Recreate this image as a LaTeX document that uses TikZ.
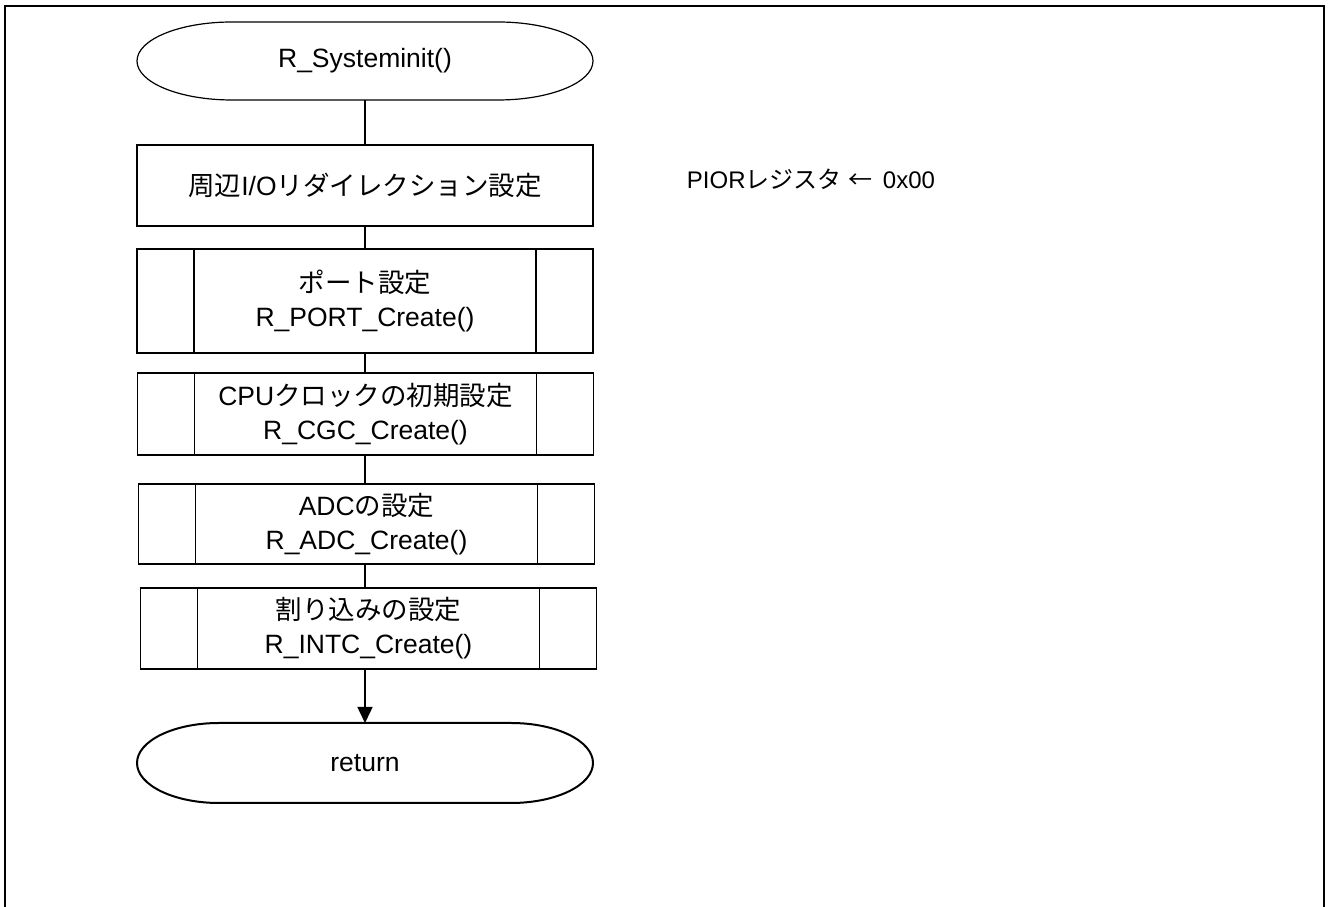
\documentclass[tikz,border=0pt]{standalone}
\usepackage{fontspec}
\setmainfont{Liberation Sans}
\newfontfamily\jp{Noto Sans CJK JP}
\usetikzlibrary{arrows.meta,calc}
\newcommand\termoutline[4]{% node, half height, line width, end radius
  \draw[line width=#3] ([xshift=#4]#1.north west) -- ([xshift=-#4]#1.north east)
    arc[start angle=90,end angle=-90,x radius=#4,y radius=#2]
    -- ([xshift=#4]#1.south west)
    arc[start angle=270,end angle=90,x radius=#4,y radius=#2] -- cycle;}
\begin{document}
\begin{tikzpicture}[x=1pt,y=1pt,
  every node/.style={font=\fontsize{26.5}{34}\selectfont, align=center, inner sep=0pt, outer sep=0pt},
  term/.style={minimum width=456pt, minimum height=#1},
  proc/.style={draw, line width=1.5pt, minimum width=456pt, minimum height=#1},
  subproc/.style={proc=#1, path picture={
    \draw[line width=1.5pt]
      ([xshift=57pt]path picture bounding box.north west) -- ([xshift=57pt]path picture bounding box.south west)
      ([xshift=-57pt]path picture bounding box.north east) -- ([xshift=-57pt]path picture bounding box.south east);}},
  conn/.style={line width=1.5pt},
  note/.style={font=\fontsize{24}{30}\selectfont}]
\useasboundingbox (0,0) rectangle (1328,907);
\draw[line width=2.5pt] (5,-2) -- (5,901) -- (1324,901) -- (1324,-2);

\node[term=78pt] (t0) at (365,846) {R\_Systeminit()};
\termoutline{t0}{39pt}{1.2pt}{95pt}

\node[proc=81pt] (b1) at (365,721.5) {{\jp 周辺}I/O{\jp リダイレクション設定}};
\node[subproc=104pt] (b2) at (365,606) {{\jp ポート設定}\\R\_PORT\_Create()};
\node[subproc=82pt] (b3) at (365.5,493) {CPU{\jp クロックの初期設定}\\R\_CGC\_Create()};
\node[subproc=80pt] (b4) at (366.5,383) {ADC{\jp の設定}\\R\_ADC\_Create()};
\node[subproc=81pt] (b5) at (368.5,278.5) {{\jp 割り込みの設定}\\R\_INTC\_Create()};

\node[term=80pt] (ret) at (365,144) {return};
\termoutline{ret}{40pt}{2pt}{82pt}

\node[note] (pior) at (811,728) {PIOR{\jp レジスタ}\ {\jp ←}\ \,0x00};

\draw[conn] (t0.south) -- (b1.north);
\draw[conn] (b1.south) -- (b2.north);
\draw[conn] (b2.south) -- (b3.north -| b2.south);
\draw[conn] (b3.south -| b2.south) -- (b4.north -| b2.south);
\draw[conn] (b4.south -| b2.south) -- (b5.north -| b2.south);
\draw[conn,-{Triangle[width=15pt,length=16pt]}] (b5.south -| b2.south) -- (ret.north);
\end{tikzpicture}
\end{document}
